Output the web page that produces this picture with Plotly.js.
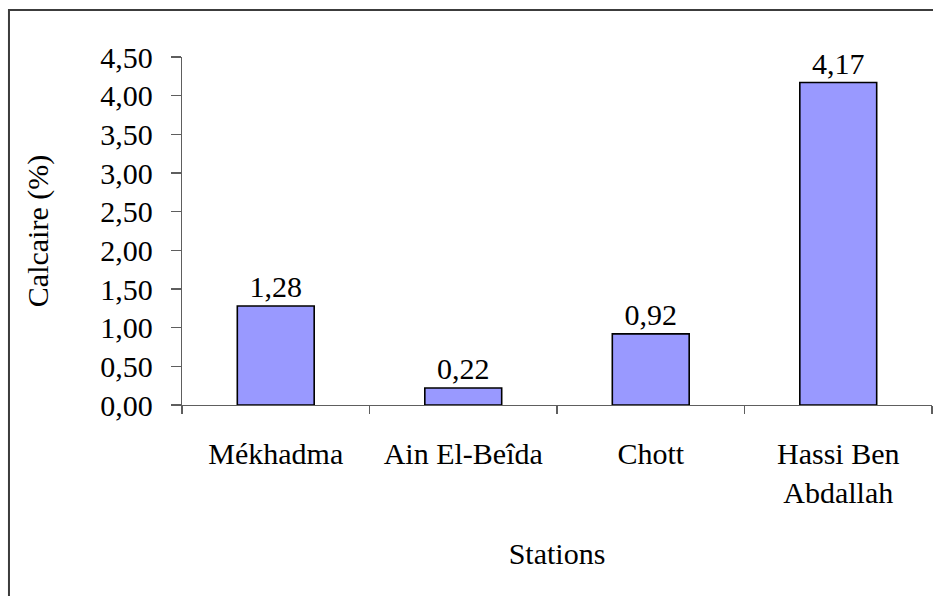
<!DOCTYPE html>
<html>
<head>
<meta charset="utf-8">
<script src="https://cdn.plot.ly/plotly-3.0.1.min.js"></script>
</head>
<body style="margin:0">
<div id="chart" style="width:933px;height:596px"></div>
<script>
// Calcium carbonate content per station
const stations = ["Mékhadma", "Ain El-Beîda", "Chott", "Hassi Ben<br>Abdallah"];
const calcaire = [1.28, 0.22, 0.92, 4.17];
const yTicks = [0, 0.5, 1, 1.5, 2, 2.5, 3, 3.5, 4, 4.5];

const AXIS_GREY = "#5e5e5e";

Plotly.newPlot("chart", [{
  type: "bar",
  x: stations,
  y: calcaire,
  width: 0.41,
  marker: { color: "#9999FF", line: { color: "#000000", width: 1.6 } },
  texttemplate: "%{y:.2f}",
  textposition: "outside",
  cliponaxis: false,
  textfont: { family: "Liberation Serif", size: 30, color: "#000000" }
}], {
  width: 933,
  height: 596,
  separators: ", ",
  margin: { l: 182, r: 1, t: 57, b: 191 },
  showlegend: false,
  font: { family: "Liberation Serif", size: 30, color: "#000000" },
  // outer chart frame (left and top edges visible, the rest runs off the page)
  shapes: [{
    type: "rect", xref: "paper", yref: "paper",
    x0: -0.2307, x1: 1.05, y0: -0.58, y1: 1.135,
    line: { color: "#3c3c3c", width: 2 }, fillcolor: "rgba(0,0,0,0)", layer: "above"
  }],
  xaxis: {
    type: "category",
    showline: true,
    linecolor: AXIS_GREY,
    linewidth: 1.3,
    ticks: "outside",
    tickson: "boundaries",
    ticklen: 8,
    tickcolor: AXIS_GREY,
    tickwidth: 1.3,
    ticklabelstandoff: 22,
    tickfont: { family: "Liberation Serif", size: 30, color: "#000000" },
    showgrid: false,
    zeroline: false,
    title: { text: "Stations", font: { family: "Liberation Serif", size: 30, color: "#000000" }, standoff: 34 }
  },
  yaxis: {
    range: [0, 4.5],
    tickvals: yTicks,
    tickformat: ".2f",
    showline: true,
    linecolor: AXIS_GREY,
    linewidth: 1.3,
    ticks: "outside",
    ticklen: 10,
    tickcolor: AXIS_GREY,
    tickwidth: 1.3,
    ticklabelstandoff: 12,
    tickfont: { family: "Liberation Serif", size: 30, color: "#000000" },
    showgrid: false,
    zeroline: false,
    title: { text: "Calcaire (%)", font: { family: "Liberation Serif", size: 30, color: "#000000" }, standoff: 42 }
  }
}, { staticPlot: true });
</script>
</body>
</html>
